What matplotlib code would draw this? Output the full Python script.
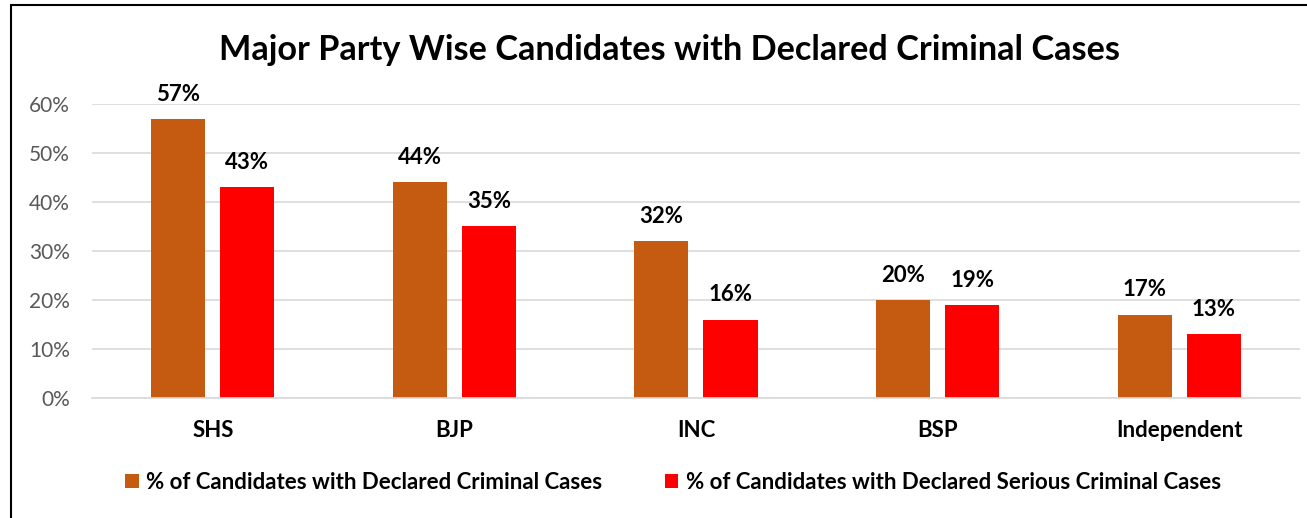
import matplotlib
matplotlib.use("Agg")
import matplotlib.pyplot as plt
import numpy as np
from matplotlib.ticker import PercentFormatter
from matplotlib.patches import Rectangle

plt.rcParams['font.family'] = ['Lato', 'DejaVu Sans']

parties = ["SHS", "BJP", "INC", "BSP", "Independent"]
criminal = [57, 44, 32, 20, 17]
serious = [43, 35, 16, 19, 13]
labels = ["% of Candidates with Declared Criminal Cases",
          "% of Candidates with Declared Serious Criminal Cases"]

fig = plt.figure(figsize=(13.07, 5.18), dpi=100)
ax = fig.add_axes([0.0704, 0.2317, 0.9242, 0.5675])

x = np.arange(len(parties))
w = 0.224
off = 0.143
b1 = ax.bar(x - off, criminal, w, color="#C55A11", label=labels[0])
b2 = ax.bar(x + off, serious, w, color="#FF0000", label=labels[1])

for bars, vals in ((b1, criminal), (b2, serious)):
    for r, v in zip(bars, vals):
        ax.text(r.get_x() + r.get_width() / 2, v + 2.9, f"{v}%", ha="center", va="bottom",
                fontsize=16, fontweight="bold", color="black")

ax.set_xlim(-0.5, len(parties) - 0.5)
ax.set_ylim(0, 60)
ax.set_yticks(range(0, 61, 10))
ax.yaxis.set_major_formatter(PercentFormatter(100, decimals=0))
ax.grid(axis="y", color="#D9D9D9", linewidth=1.2)
ax.set_axisbelow(True)
for s in ["top", "right", "left"]:
    ax.spines[s].set_visible(False)
ax.spines["bottom"].set_color("#D9D9D9")
ax.spines["bottom"].set_linewidth(1.2)
ax.tick_params(axis="y", length=0, labelsize=15, labelcolor="#595959", pad=16)
ax.tick_params(axis="x", length=0, labelsize=16, pad=16)
ax.set_xticks(x)
ax.set_xticklabels(parties, fontweight="bold")

fig.text(0.5125, 0.903, "Major Party Wise Candidates with Declared Criminal Cases",
         ha="center", va="center", fontsize=24.7, fontweight="bold")

leg = fig.legend(handles=[b1, b2], loc="center", bbox_to_anchor=(0.515, 0.068), ncol=2,
                 frameon=False, prop={"size": 16, "weight": "bold"},
                 handlelength=0.6, handleheight=0.6, handletextpad=0.35, columnspacing=2.8)

# chart border (right/bottom fall outside the crop)
fig.patches.append(Rectangle((11 / 1307, -0.1), 1.2, 1 - 5 / 518 + 0.1, transform=fig.transFigure,
                             fill=False, edgecolor="black", linewidth=1.5))

fig.savefig("out.png", dpi=100)
